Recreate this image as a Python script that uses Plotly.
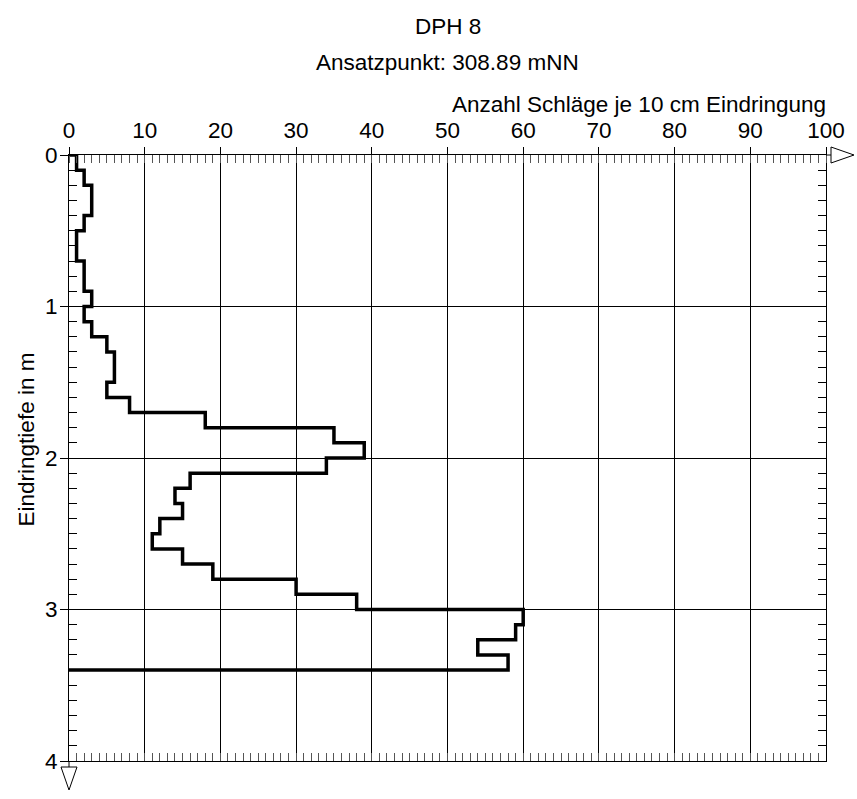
import plotly.graph_objects as go

# Dynamic probing DPH 8: blows per 10 cm, one value per 10 cm interval from 0.0 m
interval_m = 0.1
blows = [1, 2, 3, 3, 2, 1, 1, 2, 2, 3,
         2, 3, 5, 6, 6, 5, 8, 18, 35, 39,
         34, 16, 14, 15, 12, 11, 15, 19, 30, 38,
         60, 59, 54, 58]

x_ticks = list(range(0, 101, 10))
y_ticks = [0, 1, 2, 3, 4]

title_main = "DPH 8"
title_sub = "Ansatzpunkt: 308.89 mNN"
x_title = "Anzahl Schläge je 10 cm Eindringung"
y_title = "Eindringtiefe in m"

# Build the stepped profile: each count holds over its 10 cm interval
xs, ys = [0], [0.0]
for i, v in enumerate(blows):
    top = round(i * interval_m, 2)
    bot = round((i + 1) * interval_m, 2)
    xs += [v, v]
    ys += [top, bot]
xs.append(0)
ys.append(ys[-1])

FONT = "Liberation Sans, Arial, sans-serif"
FS = 22.5
MINOR = "#555555"

fig = go.Figure()
fig.add_trace(go.Scatter(x=xs, y=ys, mode="lines",
                         line=dict(color="black", width=3.5, shape="linear"),
                         hoverinfo="skip", showlegend=False))
# Helper trace so that the bottom/right frame axes are drawn
fig.add_trace(go.Scatter(x=[0], y=[0], xaxis="x2", yaxis="y2", mode="markers",
                         marker=dict(opacity=0), hoverinfo="skip", showlegend=False))

fig.update_layout(
    width=857, height=799,
    margin=dict(l=69, r=31, t=155, b=38),
    paper_bgcolor="white", plot_bgcolor="white",
    font=dict(family=FONT, size=FS, color="black"),
    xaxis=dict(
        side="top", range=[0, 100], tickvals=x_ticks,
        ticks="outside", ticklen=7, tickcolor="black", tickwidth=1,
        showgrid=True, gridcolor="black", gridwidth=1,
        showline=True, linecolor="black", linewidth=1,
        zeroline=False, ticklabelstandoff=0,
        minor=dict(dtick=1, tick0=0, ticks="inside", ticklen=8,
                   tickcolor=MINOR, tickwidth=1, showgrid=False),
        tickfont=dict(size=FS),
    ),
    xaxis2=dict(
        overlaying="x", anchor="y", side="bottom", range=[0, 100],
        tickmode="linear", tick0=0, dtick=1, ticks="inside", ticklen=8,
        tickcolor=MINOR, tickwidth=1, showticklabels=False,
        showgrid=False, showline=True, linecolor="black", linewidth=1,
        zeroline=False,
    ),
    yaxis=dict(
        range=[4, 0], tickvals=y_ticks,
        ticks="outside", ticklen=8, tickcolor="black", tickwidth=1,
        showgrid=True, gridcolor="black", gridwidth=1,
        showline=True, linecolor="black", linewidth=1,
        zeroline=False, ticklabelstandoff=-2,
        minor=dict(dtick=0.1, tick0=0, ticks="inside", ticklen=8,
                   tickcolor="black", tickwidth=1, showgrid=False),
        tickfont=dict(size=FS),
    ),
    yaxis2=dict(
        overlaying="y", anchor="x", side="right", range=[4, 0],
        tickmode="linear", tick0=0, dtick=0.1, ticks="inside", ticklen=8,
        tickcolor="black", tickwidth=1, showticklabels=False,
        showgrid=False, showline=True, linecolor="black", linewidth=1,
        zeroline=False,
    ),
)

# Open arrow heads at the ends of the depth and blow-count axes
fig.add_shape(type="path", xref="x domain", yref="y domain",
              xsizemode="pixel", ysizemode="pixel", xanchor=1, yanchor=1,
              path="M0,0 L5,0 M5,8 L5,-8 L28,0 Z",
              line=dict(color="black", width=1), fillcolor="white")
fig.add_shape(type="path", xref="x domain", yref="y domain",
              xsizemode="pixel", ysizemode="pixel", xanchor=0, yanchor=0,
              path="M0,0 L0,-6 M-8,-6 L8,-6 L0,-29 Z",
              line=dict(color="black", width=1), fillcolor="white")

fig.add_annotation(text=title_main, xref="paper", yref="paper", x=0.5, y=1.2116,
                   xanchor="center", yanchor="middle", showarrow=False,
                   font=dict(size=FS))
fig.add_annotation(text=title_sub, xref="paper", yref="paper", x=0.5, y=1.1531,
                   xanchor="center", yanchor="middle", showarrow=False,
                   font=dict(size=FS))
fig.add_annotation(text=x_title, xref="paper", yref="paper", x=1.003, y=1.0832,
                   xanchor="right", yanchor="middle", showarrow=False,
                   font=dict(size=FS))
fig.add_annotation(text=y_title, xref="paper", yref="paper", x=-0.056, y=0.53,
                   xanchor="center", yanchor="middle", textangle=-90,
                   showarrow=False, font=dict(size=FS))

fig.write_html("out.html")
